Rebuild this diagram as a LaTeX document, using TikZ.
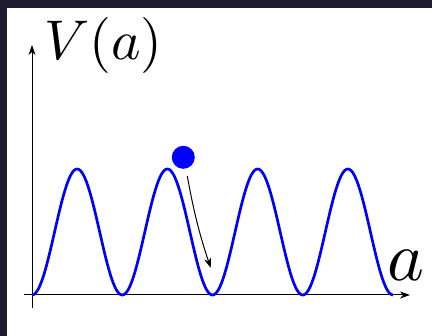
\documentclass[tikz,border=0pt]{standalone}
\usepackage{amsmath,amssymb}
\usetikzlibrary{positioning, arrows.meta, calc}
\definecolor{frame}{RGB}{30,29,48}

\begin{document}
\begin{tikzpicture}[
    x=1pt, y=1pt,
    axis/.style={-{Stealth[length=10pt, width=7pt, inset=3pt]}, line width=1pt},
    pot/.style={blue, line width=2.7pt},
    ball/.style={circle, fill=blue, inner sep=0pt, minimum size=23pt},
    roll/.style={-{Stealth[length=10pt, width=7pt, inset=3pt]}, line width=1pt},
    lbl/.style={inner sep=0pt}
]
\useasboundingbox (0,0) rectangle (432,336);
\fill[frame] (0,0) rectangle (432,336);
\fill[white] (7,0) rectangle (432,328);
\coordinate (O) at (32,41);
\coordinate (ybot) at (32,28);
\coordinate (ytop) at (32,291);
\coordinate (xleft) at (24,41);
\coordinate (xright) at (410,41);
\draw[axis] (ybot) -- (ytop);
\draw[axis] (xleft) -- (xright);
% four periods of the potential, 90.25pt each
\draw[pot] plot[domain=0:361, samples=241] ({32+\x}, {41+63*(1-cos(3.98892*\x))});
\node[ball] (ball) at (183.3,178.7) {};
\coordinate (start) at (187.3,160);
\coordinate (stop) at (210.7,68);
\draw[roll] (start) to[bend right=4] (stop);
\node[lbl, anchor=west, scale=5.6] (vlab) at (43,290) {$V(a)$};
\node[lbl, scale=7] (alab) at (406,71) {$a$};
\end{tikzpicture}
\end{document}
